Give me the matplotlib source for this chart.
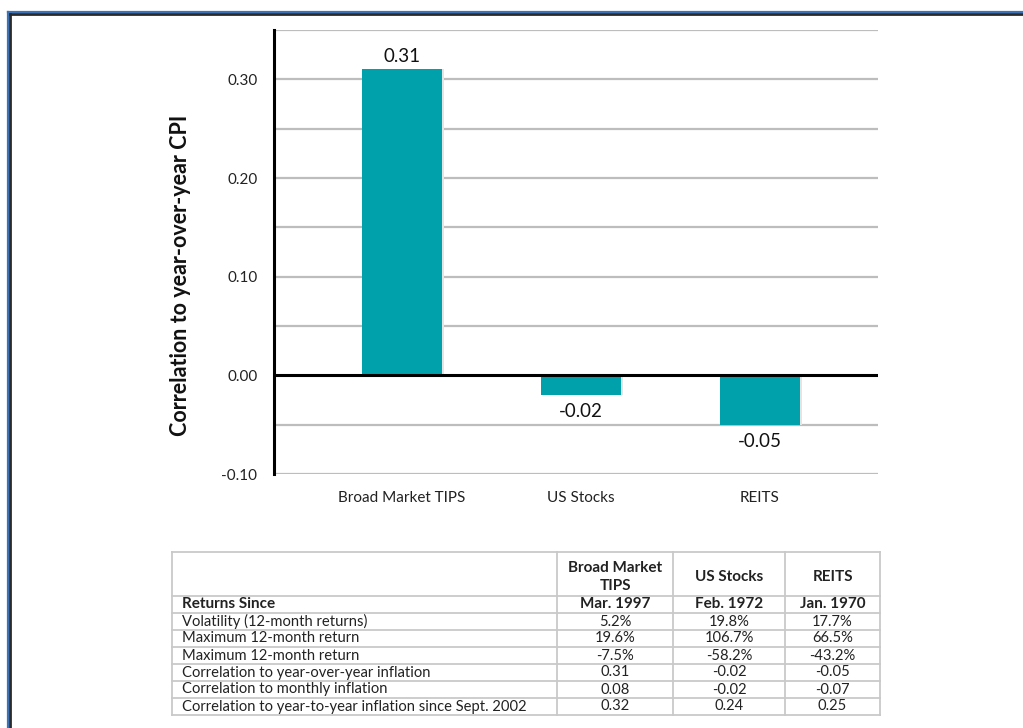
import numpy as np
import matplotlib.pyplot as plt
from matplotlib.lines import Line2D

plt.rcParams['font.family'] = ['Lato', 'DejaVu Sans']

# chart data
categories = ['Broad Market TIPS', 'US Stocks', 'REITS']
correlations = [0.31, -0.02, -0.05]
value_labels = ['0.31', '-0.02', '-0.05']
ytick_vals = [-0.10, 0.00, 0.10, 0.20, 0.30]

# table data
table_heads = ['Broad Market\nTIPS', 'US Stocks', 'REITS']
returns_since = ['Mar. 1997', 'Feb. 1972', 'Jan. 1970']
row_names = ['Volatility (12-month returns)',
             'Maximum 12-month return',
             'Maximum 12-month return',
             'Correlation to year-over-year inflation',
             'Correlation to monthly inflation',
             'Correlation to year-to-year inflation since Sept. 2002']
tips_col = ['5.2%', '19.6%', '-7.5%', '0.31', '0.08', '0.32']
stocks_col = ['19.8%', '106.7%', '-58.2%', '-0.02', '-0.02', '0.24']
reits_col = ['17.7%', '66.5%', '-43.2%', '-0.05', '-0.07', '0.25']

W, H = 1023, 728
fig = plt.figure(figsize=(W / 100, H / 100), dpi=100)

# outer frame (blue + dark line, running off right/bottom)
def px(x, y):
    return x / W, 1 - y / H
for off, col, lw in [(0, '#3d72b8', 1.6), (2, '#2a2a2a', 2.0)]:
    x0, y0 = px(8 + off, 12 + off)
    fig.add_artist(Line2D([x0, 1.0], [y0, y0], color=col, lw=lw))
    fig.add_artist(Line2D([x0, x0], [y0, 0.0], color=col, lw=lw))

# bar chart
ax = fig.add_axes([274 / W, 1 - 474 / H, (878 - 274) / W, (474 - 30) / H])
xpos = np.arange(len(categories))
teal = '#00a1ab'
ax.bar(xpos + 0.012, correlations, width=0.45, color='#e4e4e4', zorder=2)  # soft shadow
bars = ax.bar(xpos, correlations, width=0.45, color=teal, zorder=3)
ax.set_xlim(-0.715, 2.66)
ax.set_ylim(-0.10, 0.35)

for y in np.arange(-0.10, 0.351, 0.05):
    if abs(y) < 1e-9:
        continue
    ax.axhline(y, color='#bdbdbd', lw=1.6, zorder=1)
ax.axhline(0, color='black', lw=2.2, zorder=4)

ax.set_yticks(ytick_vals)
ax.set_yticklabels(['%.2f' % v for v in ytick_vals], fontsize=11, color='#222222')
ax.set_xticks(xpos)
ax.set_xticklabels(categories, fontsize=11, color='#222222')
ax.tick_params(axis='both', length=0)
ax.tick_params(axis='y', pad=12)
ax.tick_params(axis='x', pad=12)
for s in ['top', 'right', 'bottom']:
    ax.spines[s].set_visible(False)
ax.spines['left'].set_linewidth(2.2)
ax.spines['left'].set_zorder(5)

for b, v, lab in zip(bars, correlations, value_labels):
    if v >= 0:
        ax.annotate(lab, (b.get_x() + b.get_width() / 2, v), xytext=(0, 3),
                    textcoords='offset points', ha='center', va='bottom',
                    fontsize=13.5, color='#111111')
    else:
        ax.annotate(lab, (b.get_x() + b.get_width() / 2, v), xytext=(0, -12),
                    textcoords='offset points', ha='center', va='center',
                    fontsize=13.5, color='#111111')

ax.set_ylabel('Correlation to year-over-year CPI', fontsize=15.5,
              fontweight='bold', color='#111111')
ax.yaxis.set_label_coords(-0.137, 0.448)

# table
tab = fig.add_axes([172 / W, 1 - 715 / H, (880 - 172) / W, (715 - 552) / H])
tab.set_xlim(0, 708)
tab.set_ylim(163, 0)
tab.axis('off')
col_edges = [0, 385, 501, 613, 708]
head_h = 44
row_h = 17
n_rows = 1 + len(row_names)
row_edges = [0, head_h] + [head_h + row_h * (i + 1) for i in range(n_rows)]
line_col = '#c9c9c9'
for yy in row_edges:
    tab.plot([0, 708], [yy, yy], color=line_col, lw=1.3, clip_on=False)
for xx in col_edges:
    tab.plot([xx, xx], [0, row_edges[-1]], color=line_col, lw=1.3, clip_on=False)

centers = [(col_edges[i] + col_edges[i + 1]) / 2 for i in range(1, 4)]
tcol = '#222222'
for cx, h in zip(centers, table_heads):
    tab.text(cx, head_h / 2 + 3, h, ha='center', va='center', fontsize=11,
             fontweight='bold', color=tcol, linespacing=1.4)

ymid = head_h + row_h / 2
tab.text(10, ymid, 'Returns Since', ha='left', va='center', fontsize=11,
         fontweight='bold', color=tcol)
for cx, s in zip(centers, returns_since):
    tab.text(cx, ymid, s, ha='center', va='center', fontsize=11,
             fontweight='bold', color=tcol)

for i, name in enumerate(row_names):
    ymid = head_h + row_h * (i + 1) + row_h / 2
    tab.text(10, ymid, name, ha='left', va='center', fontsize=10.6, color=tcol)
    for cx, col in zip(centers, [tips_col, stocks_col, reits_col]):
        tab.text(cx, ymid, col[i], ha='center', va='center', fontsize=10.6, color=tcol)

fig.savefig('out.png', dpi=100, facecolor='white')
